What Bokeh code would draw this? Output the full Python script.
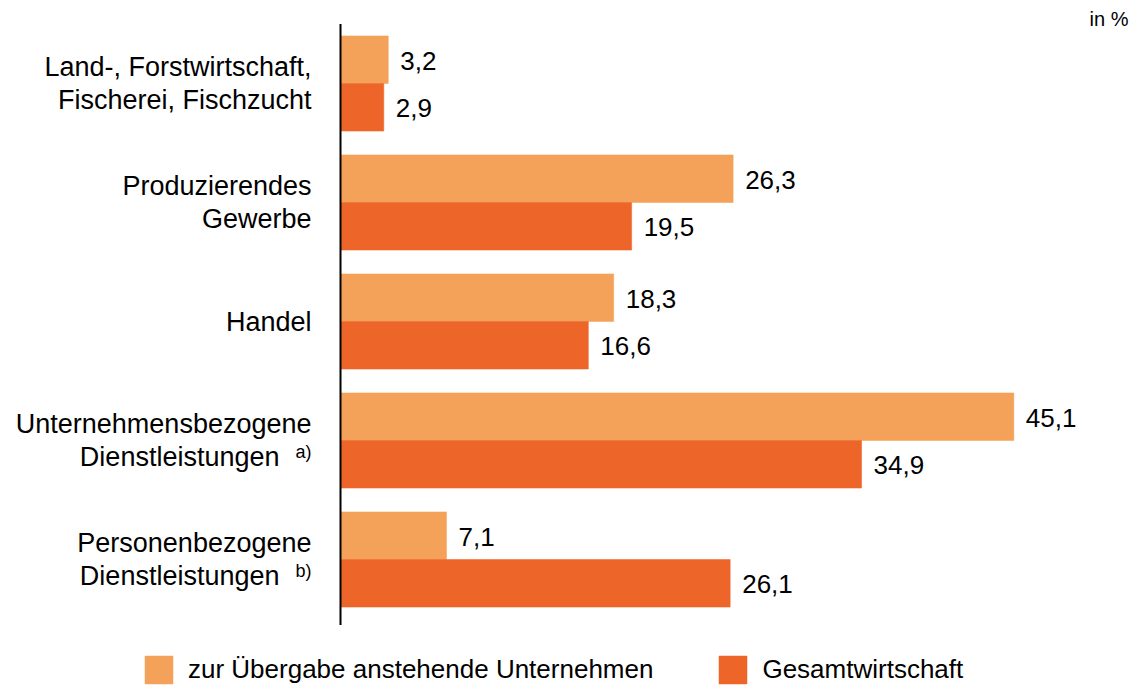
from bokeh.plotting import figure
from bokeh.models import Range1d, Legend, LegendItem, Label, ColumnDataSource
from bokeh.core.properties import value
from bokeh.embed import file_html
from bokeh.resources import INLINE

# ---- data ----
categories = [
    "Land-, Forstwirtschaft,\nFischerei, Fischzucht",
    "Produzierendes\nGewerbe",
    "Handel",
    "Unternehmensbezogene\nDienstleistungen",
    "Personenbezogene\nDienstleistungen",
]
footnotes = ["", "", "", "a)", "b)"]
series_names = ["zur Übergabe anstehende Unternehmen", "Gesamtwirtschaft"]
uebergabe = [3.2, 26.3, 18.3, 45.1, 7.1]
gesamt = [2.9, 19.5, 16.6, 34.9, 26.1]
unit_label = "in %"

# ---- style ----
LIGHT = "#F4A259"
DARK = "#EE6529"
FONT = "Liberation Sans"
W, H = 1136, 685
PX_PER_UNIT = 14.93
ZERO_PX = 340
GROUP_PX = 119
FIRST_GROUP_PX = 83

x_range = Range1d(-ZERO_PX / PX_PER_UNIT, (W - ZERO_PX) / PX_PER_UNIT)
y_range = Range1d((H - FIRST_GROUP_PX) / GROUP_PX, -FIRST_GROUP_PX / GROUP_PX)

p = figure(width=W, height=H, x_range=x_range, y_range=y_range,
           x_axis_type=None, y_axis_type=None,
           output_backend="svg", toolbar_location=None,
           min_border=0, min_border_left=0, min_border_right=0,
           min_border_top=0, min_border_bottom=0)
p.grid.visible = False
p.outline_line_color = None
p.background_fill_color = "white"
p.border_fill_color = "white"

n = len(categories)
idx = list(range(n))
bar_h = 0.4
y_light = [i - bar_h / 2 for i in idx]
y_dark = [i + bar_h / 2 for i in idx]

def fmt(v):
    return f"{v:.1f}".replace(".", ",")

src_l = ColumnDataSource(dict(y=y_light, v=uebergabe, t=[fmt(v) for v in uebergabe]))
src_d = ColumnDataSource(dict(y=y_dark, v=gesamt, t=[fmt(v) for v in gesamt]))

r_l = p.hbar(y="y", left=0, right="v", height=bar_h, source=src_l,
             fill_color=LIGHT, line_color=LIGHT, line_width=0.5)
r_d = p.hbar(y="y", left=0, right="v", height=bar_h, source=src_d,
             fill_color=DARK, line_color=DARK, line_width=0.5)

for src in (src_l, src_d):
    p.text(x="v", y="y", text="t", source=src, x_offset=12, y_offset=1,
           text_baseline="middle", text_align="left",
           text_font=value(FONT), text_font_size="26px", text_color="#000000")

# category labels (line by line, right aligned next to the axis)
lx, ly, lt, lxo, lyo = [], [], [], [], []
sx, sy, st = [], [], []
LINE_GAP = 33
for i, (cat, fn) in enumerate(zip(categories, footnotes)):
    lines = cat.split("\n")
    m = len(lines)
    for j, line in enumerate(lines):
        lx.append(0)
        ly.append(i)
        lt.append(line)
        lyo.append((j - (m - 1) / 2) * LINE_GAP)
        lxo.append(-61 if (fn and j == m - 1) else -29)
    if fn:
        sx.append(0)
        sy.append(i)
        st.append(fn)

src_cat = ColumnDataSource(dict(x=lx, y=ly, t=lt, xo=lxo, yo=lyo))
p.text(x="x", y="y", text="t", source=src_cat, x_offset="xo", y_offset="yo",
       text_align="right", text_baseline="middle",
       text_font=value(FONT), text_font_size="27px", text_color="#000000")

src_sup = ColumnDataSource(dict(x=sx, y=sy, t=st))
p.text(x="x", y="y", text="t", source=src_sup, x_offset=-29, y_offset=LINE_GAP / 2 - 5,
       text_align="right", text_baseline="middle",
       text_font=value(FONT), text_font_size="18px", text_color="#000000")

# vertical axis line
p.segment(x0=[0], y0=[-0.5], x1=[0], y1=[n - 0.45], line_color="black", line_width=2)

# unit label
p.add_layout(Label(x=W - 8, y=H - 18, x_units="screen", y_units="screen",
                   text=unit_label, text_align="right", text_baseline="middle",
                   text_font=FONT, text_font_size="20px", text_color="#000000"))

legend = Legend(items=[LegendItem(label=series_names[0], renderers=[r_l]),
                       LegendItem(label=series_names[1], renderers=[r_d])],
                orientation="horizontal", location=(141, -2),
                glyph_width=35, glyph_height=35,
                label_text_font=FONT, label_text_font_size="26px",
                label_text_color="#000000",
                label_standoff=12, spacing=62, padding=0, margin=0,
                border_line_color=None, background_fill_alpha=0)
p.add_layout(legend)

open("out.html", "w").write(file_html(p, INLINE))
